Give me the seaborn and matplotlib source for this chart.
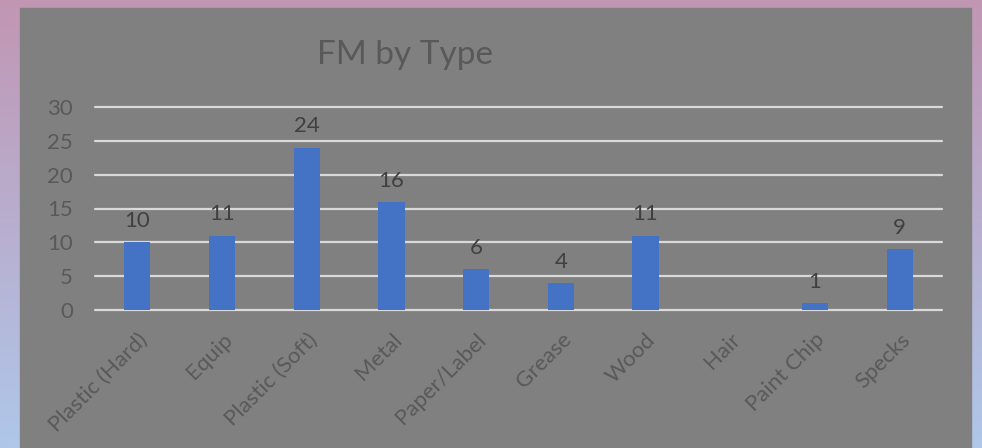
import numpy as np
import pandas as pd
import matplotlib
matplotlib.use("Agg")
import matplotlib.pyplot as plt
import seaborn as sns
from matplotlib.patches import Rectangle

categories = ["Plastic (Hard)", "Equip", "Plastic (Soft)", "Metal", "Paper/Label",
              "Grease", "Wood", "Hair", "Paint Chip", "Specks"]
counts = [10, 11, 24, 16, 6, 4, 11, 0, 1, 9]
yticks = [0, 5, 10, 15, 20, 25, 30]

df = pd.DataFrame({"Type": categories, "Count": counts})

sns.set_theme(style="white")
plt.rcParams["font.family"] = ["Lato", "DejaVu Sans"]

W, H = 982, 448
fig = plt.figure(figsize=(W / 100, H / 100), dpi=100)

# gradient backdrop (pink top -> light blue bottom)
bg = fig.add_axes([0, 0, 1, 1], zorder=-10)
top = np.array([0xC1, 0x96, 0xB3]) / 255
bot = np.array([0xAF, 0xC7, 0xEA]) / 255
t = np.linspace(0, 1, 256)[:, None]
grad = (top[None, :] * (1 - t) + bot[None, :] * t)[:, None, :]
bg.imshow(grad, aspect="auto", extent=[0, 1, 0, 1])
bg.add_patch(Rectangle((20 / W, 0), (971 - 20) / W, (448 - 8) / H, color="#808080"))
bg.set_xlim(0, 1)
bg.set_ylim(0, 1)
bg.axis("off")

ax = fig.add_axes([95 / W, (H - 310) / H, (942 - 95) / W, (310 - 107) / H])
ax.patch.set_alpha(0)
sns.barplot(data=df, x="Type", y="Count", color="#4472C4", width=0.31,
            saturation=1, linewidth=0, ax=ax, zorder=3)

ax.set_ylim(0, 30)
ax.set_xlim(-0.5, len(categories) - 0.5)
ax.set_yticks(yticks)
for y in yticks:
    ax.axhline(y, color="#D9D9D9", lw=1.6, zorder=1, clip_on=False)
for s in ax.spines.values():
    s.set_visible(False)

ax.set_xlabel("")
ax.set_ylabel("")
ax.tick_params(axis="both", length=0, colors="#595959", labelsize=16)
ax.tick_params(axis="y", pad=16)
ax.tick_params(axis="x", pad=14)
plt.setp(ax.get_xticklabels(), rotation=45, ha="right", rotation_mode="anchor")

labels = [str(v) if v else "" for v in counts]
ax.bar_label(ax.containers[0], labels=labels, padding=8, color="#404040", fontsize=16)

fig.text(405 / W, 1 - 55 / H, "FM by Type", ha="center", va="center",
         fontsize=24, color="#595959")

fig.savefig("out.png", dpi=100)
